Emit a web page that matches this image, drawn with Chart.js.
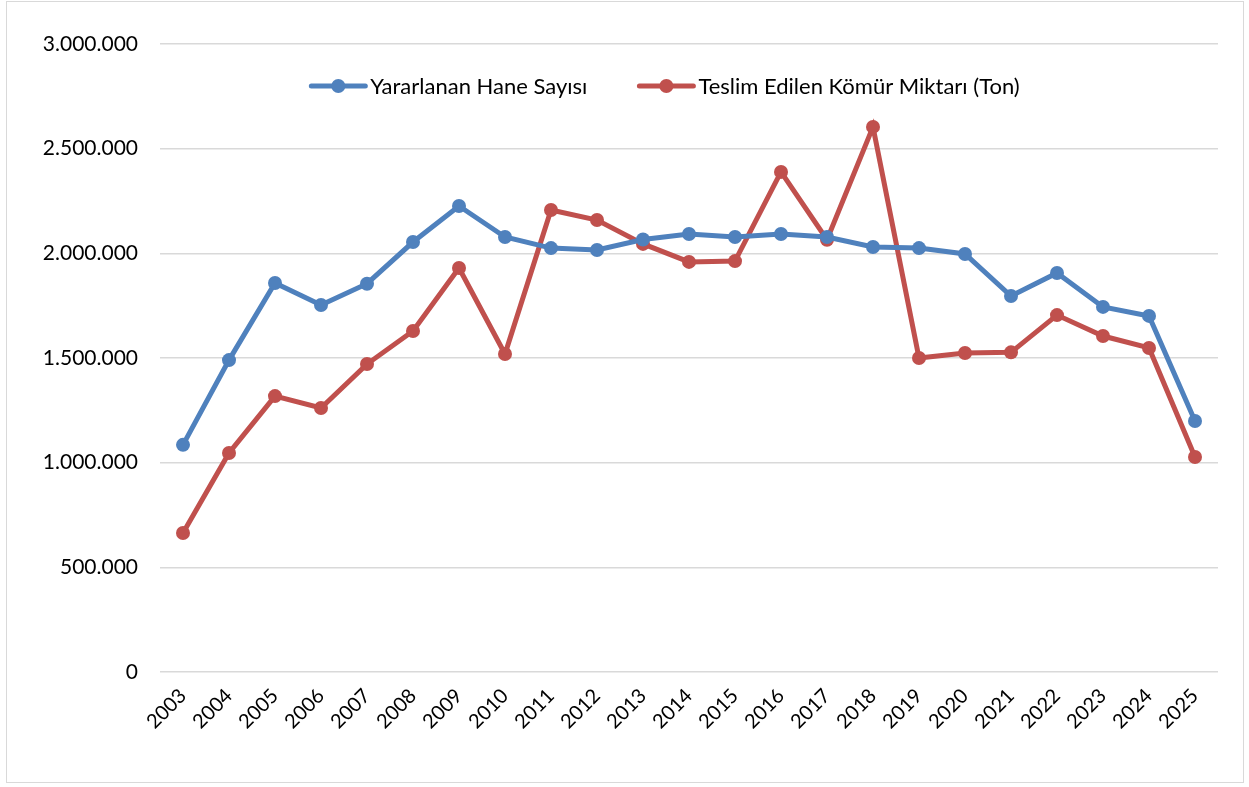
<!DOCTYPE html>
<html>
<head>
<meta charset="utf-8">
<script src="https://cdn.jsdelivr.net/npm/chart.js@4"></script>
<style>
  html, body { margin: 0; padding: 0; background: #fff; }
  #wrap { position: relative; width: 1249px; height: 787px; }
  #frame { position: absolute; left: 6px; top: 1px; width: 1238px; height: 782px; border: 1.5px solid #d9d9d9; box-sizing: border-box; pointer-events: none; }
</style>
</head>
<body>
<div id="wrap">
  <canvas id="chart" width="1249" height="787"></canvas>
  <div id="frame"></div>
</div>
<script>
const years = ["2003","2004","2005","2006","2007","2008","2009","2010","2011","2012","2013","2014",
               "2015","2016","2017","2018","2019","2020","2021","2022","2023","2024","2025"];

const households = [1085000, 1490000, 1858000, 1753000, 1855000, 2054000, 2226000, 2078000,
                    2025000, 2016000, 2066000, 2092000, 2078000, 2092000, 2078000, 2030000,
                    2025000, 1997000, 1796000, 1906000, 1744000, 1701000, 1199000];

const coalTons = [664000, 1046000, 1318000, 1261000, 1471000, 1629000, 1930000, 1519000,
                  2207000, 2159000, 2045000, 1959000, 1963000, 2389000, 2065000, 2604000,
                  1500000, 1524000, 1527000, 1705000, 1605000, 1548000, 1027000];

const seriesNames = ["Yararlanan Hane Sayısı", "Teslim Edilen Kömür Miktarı (Ton)"];
const seriesColors = ["#4F81BD", "#C0504D"];
const yTicks = [0, 500000, 1000000, 1500000, 2000000, 2500000, 3000000];

const FONT = "Lato, 'Open Sans', sans-serif";

function fmt(v) {
    return String(v).replace(/\B(?=(\d{3})+(?!\d))/g, ".");
}

// legend drawn inside the plot area, line + marker like the original
const insideLegend = {
    id: "insideLegend",
    afterDraw(chart) {
        const ctx = chart.ctx;
        ctx.save();
        ctx.font = "22px " + FONT;
        ctx.textBaseline = "middle";
        const lineLen = 54, gap = 5, itemGap = 52;
        const widths = seriesNames.map(n => lineLen + gap + ctx.measureText(n).width);
        const total = widths.reduce((a, b) => a + b, 0) + itemGap;
        let x = chart.width / 2 + 41 - total / 2;
        const y = 86;
        seriesNames.forEach((name, i) => {
            ctx.strokeStyle = seriesColors[i];
            ctx.fillStyle = seriesColors[i];
            ctx.lineWidth = 5;
            ctx.lineCap = "round";
            ctx.beginPath();
            ctx.moveTo(x, y);
            ctx.lineTo(x + lineLen, y);
            ctx.stroke();
            ctx.beginPath();
            ctx.arc(x + lineLen / 2, y, 7, 0, Math.PI * 2);
            ctx.fill();
            ctx.fillStyle = "#000";
            ctx.fillText(name, x + lineLen + gap, y + 1);
            x += widths[i] + itemGap;
        });
        ctx.restore();
    }
};

const ctx = document.getElementById("chart").getContext("2d");

new Chart(ctx, {
    type: "line",
    data: {
        labels: years,
        datasets: [
            {
                label: seriesNames[0],
                data: households,
                borderColor: seriesColors[0],
                backgroundColor: seriesColors[0],
                borderWidth: 5,
                pointRadius: 7,
                pointHoverRadius: 7,
                pointBorderWidth: 0,
                tension: 0
            },
            {
                label: seriesNames[1],
                data: coalTons,
                borderColor: seriesColors[1],
                backgroundColor: seriesColors[1],
                borderWidth: 5,
                pointRadius: 7,
                pointHoverRadius: 7,
                pointBorderWidth: 0,
                tension: 0
            }
        ]
    },
    options: {
        responsive: false,
        animation: false,
        layout: { padding: { top: 44, right: 31, left: 0, bottom: 0 } },
        plugins: {
            legend: { display: false },
            tooltip: { enabled: false }
        },
        scales: {
            x: {
                offset: true,
                grid: { display: false },
                border: { display: false },
                ticks: {
                    color: "#000",
                    font: { family: FONT, size: 20 },
                    minRotation: 45,
                    maxRotation: 45,
                    padding: 4
                },
                afterFit(scale) { scale.height = 115; }
            },
            y: {
                min: 0,
                max: 3000000,
                afterBuildTicks(scale) { scale.ticks = yTicks.map(v => ({ value: v })); },
                grid: { color: "#d9d9d9", lineWidth: 1.5, drawTicks: false },
                border: { display: false },
                ticks: {
                    color: "#000",
                    font: { family: FONT, size: 21 },
                    padding: 22,
                    callback: v => fmt(v)
                },
                afterFit(scale) { scale.width = 160; }
            }
        }
    },
    plugins: [insideLegend]
});
</script>
</body>
</html>
